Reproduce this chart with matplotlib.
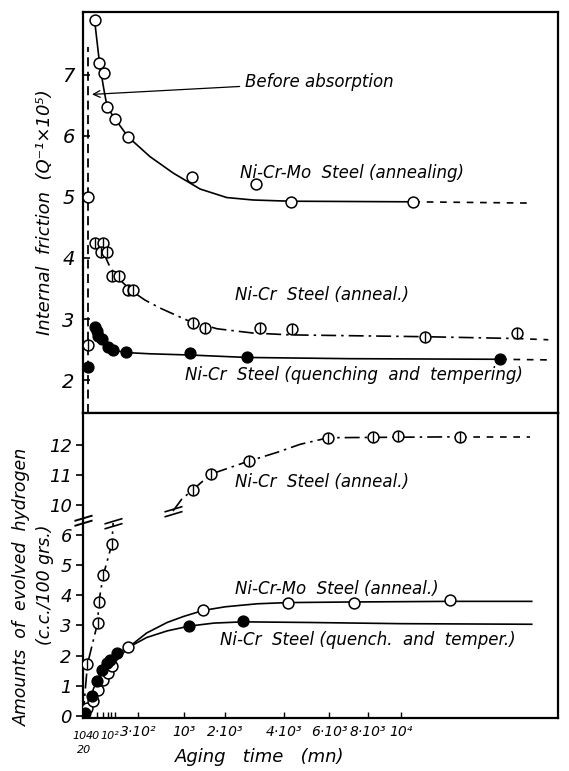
import numpy as np
import matplotlib.pyplot as plt
from matplotlib.path import Path

plt.rcParams['font.family'] = ['DejaVu Sans']
plt.rcParams['font.style'] = 'italic'

# ---- data (aging time in minutes) ----
before_t = 2.5          # "before absorption" column
before_mo, before_cr, before_q = 5.0, 2.57, 2.22

# internal friction, Q^-1 x 10^5
mo_t = [14, 26, 44, 58, 101, 203, 1180, 2960, 4280, 10790]
mo_v = [7.9, 7.2, 7.03, 6.47, 6.28, 5.98, 5.33, 5.22, 4.92, 4.92]
mo_ct = [14, 28, 45, 58, 101, 203, 444, 806, 1354, 2042, 2858, 4237, 10790]
mo_cv = [7.85, 7.15, 6.72, 6.47, 6.28, 5.98, 5.66, 5.39, 5.13, 4.99, 4.95, 4.93, 4.92]
mo_et = [10790, 19500]
mo_ev = [4.92, 4.90]

cr_t = [14, 38, 32, 57, 82, 130, 203, 250, 1203, 1472, 3098, 4307, 11560, 18600]
cr_v = [4.25, 4.25, 4.09, 4.09, 3.70, 3.70, 3.48, 3.48, 2.93, 2.85, 2.85, 2.83, 2.71, 2.77]
cr_ct = [40, 72, 110, 225, 380, 586, 1070, 1776, 2858, 4240, 11560, 18600]
cr_cv = [4.10, 3.85, 3.70, 3.47, 3.31, 3.18, 2.98, 2.84, 2.77, 2.74, 2.71, 2.68]
cr_et = [18600, 21400]
cr_ev = [2.68, 2.66]

q_t = [14, 18.6, 23, 34.6, 63, 91, 183, 1132, 2650, 17200]
q_v = [2.87, 2.80, 2.72, 2.68, 2.54, 2.50, 2.46, 2.44, 2.37, 2.34]
q_ct = [12, 19, 32, 62, 89, 183, 444, 1132, 2660, 7050, 17200]
q_cv = [2.90, 2.76, 2.65, 2.54, 2.49, 2.45, 2.43, 2.41, 2.37, 2.35, 2.34]
q_et = [17200, 21400]
q_ev = [2.34, 2.33]

# evolved hydrogen, c.c./100 grs.
hcr_t = [2, 21, 25, 41, 82]
hcr_v = [1.72, 3.08, 3.79, 4.68, 5.69]
hcr_ct = [0, 2, 21, 25, 41, 82, 90]
hcr_cv = [0, 1.72, 3.08, 3.79, 4.68, 5.69, 6.4]
hcr2_t = [1190, 1613, 2735, 5950, 8300, 9830, 14050]
hcr2_v = [10.5, 11.02, 11.46, 12.23, 12.25, 12.3, 12.26]
hcr2_ct = [801, 963, 1190, 1613, 2735, 3710, 4657, 5950, 14050]
hcr2_cv = [9.8, 10.19, 10.5, 11.02, 11.46, 11.74, 12.01, 12.23, 12.26]
hcr2_et = [14050, 19760]
hcr2_ev = [12.26, 12.26]

hmo_t = [2, 10.5, 23, 41, 63, 82, 203, 1431, 4166, 7263, 13320]
hmo_v = [0.26, 0.48, 0.87, 1.2, 1.42, 1.64, 2.27, 3.51, 3.76, 3.76, 3.84]
hmo_ct = [0, 2, 10.5, 23, 41, 63, 82, 130, 203, 400, 700, 1000, 1431, 2000,
          3000, 4166, 7263, 13320, 19900]
hmo_cv = [0, 0.26, 0.48, 0.87, 1.2, 1.42, 1.64, 1.95, 2.27, 2.75, 3.1, 3.3,
          3.5, 3.62, 3.72, 3.76, 3.78, 3.8, 3.8]

hq_t = [0.5, 7.5, 18.6, 34.6, 58, 72, 116, 1117, 2540]
hq_v = [0.1, 0.65, 1.15, 1.53, 1.77, 1.86, 2.08, 2.98, 3.15]
hq_ct = [0, 7.5, 18.6, 34.6, 58, 72, 116, 203, 400, 700, 1117, 1700, 2540,
         5000, 10000, 19900]
hq_cv = [0, 0.65, 1.15, 1.53, 1.77, 1.86, 2.08, 2.27, 2.6, 2.82, 2.98, 3.08,
         3.12, 3.1, 3.06, 3.04]

xtick_t = [300, 1000, 2000, 4000, 6000, 8000, 10000]
xtick_lab = ['3·10²', '10³', '2·10³', '4·10³', '6·10³', '8·10³', '10⁴']
small_t = [10, 20, 40, 100]
small_lab = ['10', '20', '40', '10²']

# ---- scales: square-root time axis, broken hydrogen axis ----
def fwd_x(t):
    return np.sqrt(np.clip(t, 0, None))

def inv_x(s):
    return np.square(s)

brk_in = [-10, 6.45, 9.55, 30]
brk_out = [-10, 6.45, 6.55, 27.0]

def fwd_y(v):
    return np.interp(v, brk_in, brk_out)

def inv_y(v):
    return np.interp(v, brk_out, brk_in)

dashdot = (0, (9, 3, 1.5, 3))
lw = 1.2
ms = 7.8

def open_pts(ax, t, v):
    ax.plot(t, v, 'o', ms=ms, mfc='white', mec='black', mew=1.1, zorder=4)

def filled_pts(ax, t, v):
    ax.plot(t, v, 'o', ms=ms, mfc='black', mec='black', zorder=4)

def phi_pts(ax, t, v):
    ax.plot(t, v, 'o', ms=ms, mfc='white', mec='black', mew=1.1, zorder=4)
    ax.plot(t, v, '|', ms=ms, mec='black', mew=1.0, zorder=5)

brk_marker = Path([(-1, -0.6), (1, 0.0), (-1, -0.05), (1, 0.55)],
                  [Path.MOVETO, Path.LINETO, Path.MOVETO, Path.LINETO])

fig = plt.figure(figsize=(5.69, 7.71), dpi=100)
L, W = 83 / 569, 475 / 569
ax1 = fig.add_axes([L, 1 - 413 / 771, W, (413 - 12) / 771])
ax2 = fig.add_axes([L, 1 - 718 / 771, W, (718 - 413) / 771])

for ax in (ax1, ax2):
    ax.set_xscale('function', functions=(fwd_x, inv_x))
    ax.set_xlim(0, 22300)
    for s in ax.spines.values():
        s.set_linewidth(1.6)

# ---- top panel: internal friction ----
ax1.set_ylim(1.46, 8.03)
ax1.axvline(before_t, ymin=0, ymax=(7.45 - 1.46) / (8.03 - 1.46),
            color='black', ls=(0, (5, 3)), lw=1.3)

ax1.plot(mo_ct, mo_cv, '-', color='black', lw=lw)
ax1.plot(mo_et, mo_ev, '--', color='black', lw=lw, dashes=(4, 4))
open_pts(ax1, mo_t, mo_v)
open_pts(ax1, [before_t], [before_mo])

ax1.plot(cr_ct, cr_cv, color='black', lw=lw, ls=dashdot)
ax1.plot(cr_et, cr_ev, '--', color='black', lw=lw, dashes=(4, 4))
phi_pts(ax1, cr_t, cr_v)
phi_pts(ax1, [before_t], [before_cr])

ax1.plot(q_ct, q_cv, '-', color='black', lw=lw)
ax1.plot(q_et, q_ev, '--', color='black', lw=lw, dashes=(4, 4))
filled_pts(ax1, q_t, q_v)
filled_pts(ax1, [before_t], [before_q])

ax1.set_yticks([2, 3, 4, 5, 6, 7])
ax1.set_xticks([])
ax1.tick_params(axis='y', direction='in', length=5, width=1.2, labelsize=14, pad=6)
ax1.set_ylabel('Internal  friction  (Q⁻¹×10⁵)', fontsize=13, labelpad=6)

ax1.annotate('Before absorption', xy=(8, 6.68), xytext=(2600, 6.88),
             fontsize=12, va='center', ha='left',
             arrowprops=dict(arrowstyle='->', lw=0.9, color='black',
                             shrinkA=2, shrinkB=0))
ax1.text(2437, 5.39, 'Ni-Cr-Mo  Steel (annealing)', fontsize=12, va='center')
ax1.text(2285, 3.39, 'Ni-Cr  Steel (anneal.)', fontsize=12, va='center')
ax1.text(1029, 2.08, 'Ni-Cr  Steel (quenching  and  tempering)', fontsize=12,
         va='center')

# ---- bottom panel: evolved hydrogen ----
ax2.set_yscale('function', functions=(fwd_y, inv_y))
ax2.set_ylim(-0.07, 13.05)

ax2.plot(hcr_ct, hcr_cv, color='black', lw=lw, ls=dashdot)
ax2.plot(hcr2_ct, hcr2_cv, color='black', lw=lw, ls=dashdot)
ax2.plot(hcr2_et, hcr2_ev, '--', color='black', lw=lw, dashes=(4, 4))
phi_pts(ax2, hcr_t, hcr_v)
phi_pts(ax2, hcr2_t, hcr2_v)

ax2.plot(hmo_ct, hmo_cv, '-', color='black', lw=lw)
open_pts(ax2, hmo_t, hmo_v)
ax2.plot(hq_ct, hq_cv, '-', color='black', lw=lw)
filled_pts(ax2, hq_t, hq_v)

# break marks on the curve and on the axis
ax2.plot([hcr_ct[-1]], [hcr_cv[-1]], marker=brk_marker, ms=13, mew=1.2,
         color='black', zorder=6)
ax2.plot([hcr2_ct[0]], [hcr2_cv[0]], marker=brk_marker, ms=13, mew=1.2,
         color='black', zorder=6)
ax2.plot([0], [8.0], marker=brk_marker, ms=13, mew=1.4, color='black',
         clip_on=False, zorder=6)

ax2.set_yticks([0, 1, 2, 3, 4, 5, 6, 10, 11, 12])
ax2.tick_params(axis='y', direction='out', length=5, width=1.2, labelsize=13, pad=3)
ax2.set_xticks(xtick_t)
ax2.set_xticklabels(xtick_lab)
ax2.set_xticks([20, 40, 60, 80, 100], minor=True)
ax2.tick_params(axis='x', which='both', direction='in', length=4, width=1.0,
                labelsize=10, pad=5)

# crowded labels near the origin, placed by hand like the original
small_dx = [-10.0, -9.5, -7.3, -3.8]
small_dy = [-13, -23, -13, -13]
for t, lab, dx, dy in zip(small_t, small_lab, small_dx, small_dy):
    ax2.annotate(lab, xy=(t, 0), xycoords=('data', 'axes fraction'),
                 xytext=(dx, dy), textcoords='offset points',
                 ha='center', va='center', fontsize=8)

ax2.text(2285, 10.76, 'Ni-Cr  Steel (anneal.)', fontsize=12, va='center')
ax2.text(2285, 4.22, 'Ni-Cr-Mo  Steel (anneal.)', fontsize=12, va='center')
ax2.text(1856, 2.51, 'Ni-Cr  Steel (quench.  and  temper.)', fontsize=12,
         va='center')

fig.text(22 / 569, 1 - 587 / 771, 'Amounts  of  evolved  hydrogen', rotation=90,
         ha='center', va='center', fontsize=12.5)
fig.text(45 / 569, 1 - 585 / 771, '(c.c./100 grs.)', rotation=90,
         ha='center', va='center', fontsize=12.5)
fig.text(260 / 569, 1 - 757 / 771, 'Aging   time   (mn)', ha='center',
         va='center', fontsize=13)

fig.savefig('out.png', dpi=100)
